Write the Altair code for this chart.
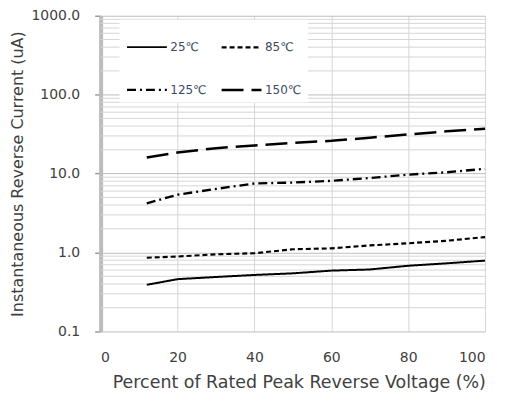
import altair as alt
import pandas as pd

# ---- data ----
x_pct = [12, 20, 30, 40, 50, 60, 70, 80, 90, 100]
i_25 = [0.39, 0.46, 0.49, 0.52, 0.545, 0.59, 0.61, 0.68, 0.73, 0.79]
i_85 = [0.86, 0.89, 0.95, 0.98, 1.10, 1.13, 1.23, 1.31, 1.41, 1.57]
i_125 = [4.2, 5.4, 6.4, 7.5, 7.7, 8.1, 8.8, 9.7, 10.4, 11.5]
i_150 = [16, 18.5, 21, 22.7, 24.5, 26, 28.5, 31.4, 34.3, 37]
series = ["25℃", "85℃", "125℃", "150℃"]

major_ticks = [0.1, 1, 10, 100, 1000]
minor_ticks = [round(m * d, 4) for d in [0.1, 1, 10, 100] for m in range(2, 10)]
x_ticks = [0, 20, 40, 60, 80, 100]

rows = []
for name, vals in zip(series, [i_25, i_85, i_125, i_150]):
    for xv, yv in zip(x_pct, vals):
        rows.append({"pct": xv, "current": yv, "temp": name})
df = pd.DataFrame(rows)
grid_df = pd.DataFrame({"v": minor_ticks})

FONT = "DejaVu Sans"
TXT = "#404040"
YTITLE = "Instantaneous Reverse Current (uA)"

yscale = alt.Scale(type="log", domain=[0.1, 1000])
yaxis = alt.Axis(
    values=major_ticks,
    format=".1f",
    title=YTITLE,
    grid=True,
    gridColor="#bdbdbd",
    domain=True,
    domainColor="#bcbcbc",
    domainWidth=4,
    ticks=True,
    tickColor="#9a9a9a",
    tickSize=6,
    tickWidth=1.5,
    labelPadding=15,
    titlePadding=5,
    titleFontSize=16,
)

grid = alt.Chart(grid_df).mark_rule(color="#d6d6d6", strokeWidth=1).encode(
    y=alt.Y("v:Q", scale=yscale, axis=yaxis, title=YTITLE)
)

lines = alt.Chart(df).mark_line(color="black").encode(
    x=alt.X(
        "pct:Q",
        scale=alt.Scale(domain=[0, 100]),
        axis=alt.Axis(
            values=x_ticks,
            title="Percent of Rated Peak Reverse Voltage (%)",
            grid=True,
            gridColor="#d6d6d6",
            domain=False,
            ticks=False,
            tickSize=0,
            labelPadding=19,
            titlePadding=9,
            titleFontSize=17.5,
            titleX=199,
        ),
    ),
    y=alt.Y("current:Q", scale=yscale, axis=yaxis, title=YTITLE),
    strokeDash=alt.StrokeDash(
        "temp:N",
        scale=alt.Scale(domain=series, range=[[1, 0], [5, 3], [9, 4, 2, 4], [22, 8]]),
        legend=alt.Legend(
            title=None,
            orient="none",
            legendX=19,
            legendY=4,
            direction="horizontal",
            columns=2,
            symbolType="stroke",
            symbolSize=1600,
            symbolStrokeWidth=2.5,
            symbolStrokeColor="black",
            fillColor="white",
            padding=6,
            rowPadding=15,
            columnPadding=9,
            labelOffset=2,
            labelFontSize=12,
            labelColor="#3c4a66",
            labelFont=FONT,
        ),
    ),
    strokeWidth=alt.StrokeWidth(
        "temp:N",
        scale=alt.Scale(domain=series, range=[2, 2.5, 2.5, 3.5]),
        legend=None,
    ),
)

chart = (
    alt.layer(grid, lines)
    .properties(
        width=386,
        height=317,
        background="white",
        padding={"left": 2, "top": 0, "right": 8, "bottom": 2},
    )
    .configure_view(stroke=None)
    .configure_axis(
        labelFont=FONT,
        titleFont=FONT,
        labelFontSize=14,
        titleFontWeight="normal",
        labelColor=TXT,
        titleColor=TXT,
    )
)

chart.save("out.html", embed_options={"renderer": "svg", "actions": False})
